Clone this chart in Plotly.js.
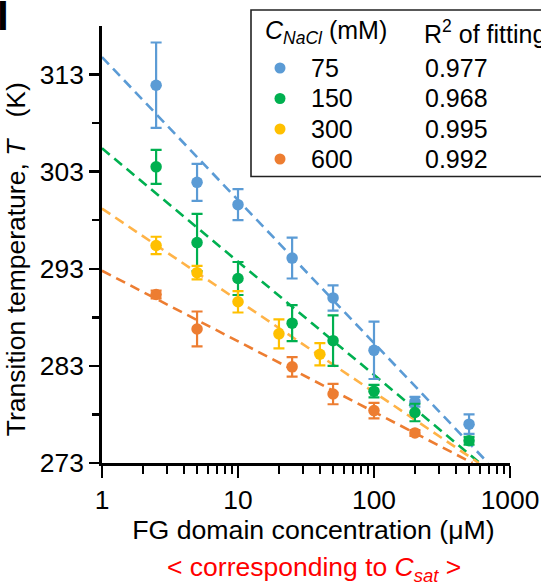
<!DOCTYPE html>
<html>
<head>
<meta charset="utf-8">
<script src="https://cdn.plot.ly/plotly-3.0.1.min.js"></script>
<style>html,body{margin:0;padding:0;background:#fff;}#chart{width:541px;height:584px;}</style>
</head>
<body>
<div id="chart"></div>
<script>
// ---- data ----
const saltLabels = ["75", "150", "300", "600"];
const r2Labels = ["0.977", "0.968", "0.995", "0.992"];

const conc75 = [2.5, 5, 10, 25, 50, 100, 200, 500];
const temp75 = [311.9, 301.9, 299.6, 294.1, 290.0, 284.6, 279.3, 277.0];
const err75  = [4.4, 1.9, 1.6, 2.1, 1.3, 2.95, 0.5, 1.0];

const conc150 = [2.5, 5, 10, 25, 50, 100, 200, 500];
const temp150 = [303.5, 295.7, 292.0, 287.4, 285.6, 280.4, 278.2, 275.3];
const err150  = [1.75, 2.95, 1.7, 1.85, 2.6, 0.65, 0.9, 0.4];

const conc300 = [2.5, 5, 10, 20, 40];
const temp300 = [295.4, 292.6, 289.6, 286.3, 284.2];
const err300  = [0.9, 0.7, 1.1, 1.5, 1.15];

const conc600 = [2.5, 5, 25, 50, 100, 200];
const temp600 = [290.35, 286.8, 282.9, 280.1, 278.4, 276.1];
const err600  = [0.4, 1.8, 1.0, 1.05, 0.8, 0.3];

// fitted lines (end points)
const fitConc75 = [1, 690],  fitTemp75 = [314.8, 273];
const fitConc150 = [1, 600], fitTemp150 = [305.4, 273];
const fitConc300 = [1, 590], fitTemp300 = [299.2, 273];
const fitConc600 = [1, 530], fitTemp600 = [292.8, 273];

const xTickVals = [1, 10, 100, 1000];
const xTickText = ["1", "10", "100", "1000"];
const yTickVals = [273, 283, 293, 303, 313];
const yTickText = ["273", "283", "293", "303", "313"];
const yMinorVals = [278, 288, 298, 308];

// ---- styles ----
const markerColors = ["#5B9BD5", "#00B050", "#FFC000", "#ED7D31"];
const lineColors   = ["#5B9BD5", "#00B050", "#FFB347", "#ED7D31"];
const FONT = "Liberation Sans, Arial, sans-serif";

const series = [
  {x: conc75, y: temp75, e: err75, fx: fitConc75, fy: fitTemp75},
  {x: conc150, y: temp150, e: err150, fx: fitConc150, fy: fitTemp150},
  {x: conc300, y: temp300, e: err300, fx: fitConc300, fy: fitTemp300},
  {x: conc600, y: temp600, e: err600, fx: fitConc600, fy: fitTemp600}
];

const traces = [];
series.forEach((s, i) => {
  traces.push({
    x: s.fx, y: s.fy, type: "scatter", mode: "lines",
    line: {color: lineColors[i], width: 2.6, dash: "10px,6px"},
    hoverinfo: "skip", showlegend: false, cliponaxis: false
  });
});
series.forEach((s, i) => {
  traces.push({
    x: s.x, y: s.y, type: "scatter", mode: "markers",
    marker: {color: markerColors[i], size: 11.5},
    error_y: {type: "data", array: s.e, visible: true, color: markerColors[i], thickness: 2.2, width: 5.5},
    showlegend: false, cliponaxis: false, name: saltLabels[i]
  });
});

// plot area in px: x 102..510, y 26..463
const L = 102, R = 510, T = 26, B = 463;
const px = v => (v - L) / (R - L);
const py = v => (B - v) / (B - T);

const legendRowsY = [68, 98.5, 129, 159];
const shapes = [
  {type: "rect", xref: "paper", yref: "paper", x0: px(251), x1: px(560), y0: py(176.5), y1: py(10),
   line: {color: "#222", width: 1.6}, fillcolor: "rgba(255,255,255,1)", layer: "above"}
];
legendRowsY.forEach((yy, i) => {
  shapes.push({type: "circle", xref: "paper", yref: "paper", xsizemode: "pixel", ysizemode: "pixel",
    xanchor: px(280), yanchor: py(yy), x0: -5.5, x1: 5.5, y0: -5.5, y1: 5.5,
    fillcolor: markerColors[i], line: {width: 0}, layer: "above"});
});

const annotations = [
  {xref: "paper", yref: "paper", x: px(263), y: py(32), xanchor: "left", yanchor: "middle", showarrow: false,
   text: "<i>C</i><sub><i>NaCl</i></sub> (mM)", font: {family: FONT, size: 25, color: "#000"}},
  {xref: "paper", yref: "paper", x: px(422), y: py(32), xanchor: "left", yanchor: "middle", showarrow: false,
   text: "R<sup>2</sup> of fitting", font: {family: FONT, size: 25, color: "#000"}},
  {xref: "paper", yref: "paper", x: px(314), y: py(569), xanchor: "center", yanchor: "middle", showarrow: false,
   text: "&lt; corresponding to <i>C</i><sub><i>sat</i></sub> &gt;", font: {family: FONT, size: 26.5, color: "#FF0000"}},
  {xref: "paper", yref: "paper", x: px(-5), y: py(-10), xanchor: "left", yanchor: "top", showarrow: false,
   text: "<b>I</b>", font: {family: FONT, size: 42, color: "#000"}}
];
legendRowsY.forEach((yy, i) => {
  annotations.push({xref: "paper", yref: "paper", x: px(309), y: py(yy), xanchor: "left", yanchor: "middle",
    showarrow: false, text: saltLabels[i], font: {family: FONT, size: 25, color: "#000"}});
  annotations.push({xref: "paper", yref: "paper", x: px(423), y: py(yy), xanchor: "left", yanchor: "middle",
    showarrow: false, text: r2Labels[i], font: {family: FONT, size: 25, color: "#000"}});
});

const layout = {
  width: 541, height: 584,
  margin: {l: L, r: 541 - R, t: T, b: 584 - B, pad: 0},
  paper_bgcolor: "#fff", plot_bgcolor: "#fff",
  font: {family: FONT, size: 26, color: "#000"},
  showlegend: false,
  xaxis: {
    type: "log", range: [0, 3], tickmode: "array", tickvals: xTickVals, ticktext: xTickText,
    ticks: "outside", ticklen: 12, tickwidth: 2.5, tickcolor: "#000",
    showline: true, linecolor: "#000", linewidth: 2.8, showgrid: false, zeroline: false,
    minor: {ticks: "outside", ticklen: 8, tickwidth: 2.2, tickcolor: "#000", dtick: "D1", showgrid: false},
    tickfont: {family: FONT, size: 26.4, color: "#000"},
    title: {text: "&nbsp;&nbsp;FG domain concentration (μM)", font: {family: FONT, size: 26.7, color: "#000"}, standoff: 6}
  },
  yaxis: {
    range: [273, 318], tickmode: "array", tickvals: yTickVals, ticktext: yTickText,
    ticks: "outside", ticklen: 10, tickwidth: 2.5, tickcolor: "#000",
    showline: true, linecolor: "#000", linewidth: 2.8, showgrid: false, zeroline: false,
    minor: {tickmode: "array", tickvals: yMinorVals, ticks: "outside", ticklen: 7, tickwidth: 2.5, tickcolor: "#000", showgrid: false},
    tickfont: {family: FONT, size: 26.4, color: "#000"},
    title: {text: "Transition temperature, <i>T</i>&nbsp;&nbsp; (K)&nbsp;&nbsp;&nbsp;&nbsp;", font: {family: FONT, size: 26.5, color: "#000"}, standoff: 7}
  },
  shapes: shapes,
  annotations: annotations
};

Plotly.newPlot("chart", traces, layout, {displayModeBar: false, staticPlot: true});
</script>
</body>
</html>
